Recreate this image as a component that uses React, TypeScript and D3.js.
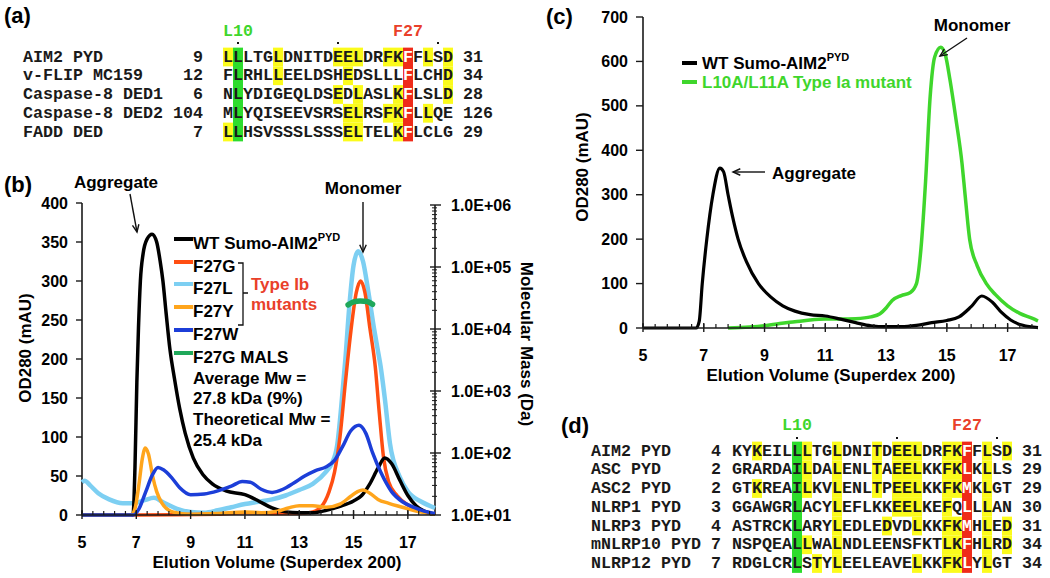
import React from 'react';
import * as d3 from 'd3';

// ---------- DATA ----------
type P = [number, number];

const xTickValues = [5, 7, 9, 11, 13, 15, 17];
const bLeftTicks = [0, 50, 100, 150, 200, 250, 300, 350, 400];
const bRightTicks = [1e1, 1e2, 1e3, 1e4, 1e5, 1e6];
const bRightLabels = ['1.0E+01', '1.0E+02', '1.0E+03', '1.0E+04', '1.0E+05', '1.0E+06'];
const cLeftTicks = [0, 100, 200, 300, 400, 500, 600, 700];

// panel (b) chromatograms (elution volume, OD280)
const wtB: P[] = [[5, 0], [6.8, 0], [6.88, 1], [6.95, 60], [7.02, 170], [7.08, 240], [7.15, 300], [7.25, 335], [7.4, 354], [7.58, 360], [7.75, 350], [7.88, 325], [7.98, 300], [8.1, 258], [8.24, 212], [8.4, 176], [8.6, 136], [8.8, 105], [9.1, 73], [9.45, 52], [9.8, 40], [10.3, 31], [11, 26], [11.5, 18], [12, 9], [12.5, 4], [13, 3], [13.5, 3], [14, 6], [14.5, 11], [15, 18], [15.3, 25], [15.6, 40], [15.9, 60], [16.15, 73], [16.4, 66], [16.7, 45], [17, 25], [17.3, 12], [17.6, 5], [18, 1]];
const f27G: P[] = [[5, 0], [7, 0], [10, 1], [11, 3], [12, 2], [13, 2], [13.5, 4], [13.8, 10], [14.1, 30], [14.3, 55], [14.5, 100], [14.7, 170], [14.9, 235], [15.1, 285], [15.26, 300], [15.42, 285], [15.6, 240], [15.8, 190], [15.95, 130], [16.1, 75], [16.3, 42], [16.6, 25], [17, 13], [17.4, 6], [18, 1]];
const f27L: P[] = [[5, 42], [5.1, 44], [5.3, 38], [5.6, 28], [6, 20], [6.5, 15], [6.9, 15], [7.3, 19], [7.65, 22], [8, 16], [8.5, 8], [9, 4], [9.5, 3], [10, 6], [10.5, 10], [11, 14], [11.5, 17], [12, 20], [12.5, 25], [13, 32], [13.5, 40], [14, 56], [14.2, 66], [14.4, 90], [14.55, 140], [14.7, 200], [14.85, 270], [15.0, 320], [15.17, 338], [15.35, 325], [15.55, 285], [15.75, 240], [15.9, 210], [16.0, 190], [16.15, 150], [16.34, 92], [16.7, 49], [17, 30], [17.5, 17], [18, 9]];
const f27Y: P[] = [[5, 0], [6.8, 0], [6.95, 8], [7.1, 40], [7.22, 72], [7.33, 86], [7.45, 78], [7.6, 50], [7.75, 30], [7.95, 15], [8.2, 6], [8.6, 2], [9, 1], [10, 2], [11, 4], [11.6, 3], [12.2, 5], [12.6, 9], [13, 12], [13.5, 12], [14, 10], [14.5, 14], [14.9, 24], [15.15, 30], [15.35, 32], [15.6, 28], [15.9, 20], [16.3, 15], [16.8, 10], [17.3, 5], [18, 1]];
const f27W: P[] = [[5, 0], [6.9, 0], [7.1, 8], [7.35, 30], [7.6, 52], [7.8, 61], [8.0, 58], [8.3, 48], [8.6, 35], [9, 26], [9.5, 27], [10, 31], [10.5, 37], [10.9, 43], [11.2, 42], [11.6, 33], [12.0, 29], [12.4, 33], [12.8, 41], [13.2, 50], [13.6, 57], [14, 62], [14.3, 70], [14.6, 88], [14.9, 108], [15.2, 115], [15.45, 105], [15.7, 80], [16.0, 55], [16.4, 30], [16.8, 17], [17.2, 10], [17.6, 5], [18, 2]];
// MALS molar mass (Da), right log axis
const malsB: P[] = [[14.8, 24500], [15.0, 27300], [15.25, 28300], [15.5, 27800], [15.7, 25000]];

// panel (c)
const wtC: P[] = [[5, 0], [6.75, 0], [6.85, 15], [6.95, 100], [7.1, 200], [7.3, 300], [7.53, 360], [7.65, 352], [7.8, 300], [7.95, 250], [8.13, 200], [8.4, 150], [8.8, 100], [9.2, 70], [9.6, 50], [10.0, 38], [10.5, 30], [11, 27], [11.5, 20], [12, 12], [12.5, 5], [13, 3], [13.5, 3], [14, 6], [14.5, 12], [15, 17], [15.4, 25], [15.8, 48], [16.15, 72], [16.5, 58], [16.8, 35], [17.1, 18], [17.5, 6], [18, 1]];
const l10C: P[] = [[7.8, 0], [8.5, 2], [9, 5], [9.5, 10], [10, 14], [10.5, 18], [11, 20], [11.5, 20], [12, 21], [12.5, 25], [12.8, 32], [13.0, 45], [13.2, 62], [13.5, 73], [13.8, 80], [14.0, 100], [14.15, 180], [14.3, 330], [14.45, 520], [14.6, 610], [14.8, 632], [14.95, 615], [15.1, 560], [15.3, 470], [15.5, 370], [15.6, 300], [15.75, 200], [16.0, 140], [16.3, 100], [16.6, 75], [17.0, 50], [17.4, 33], [17.8, 22], [18, 16]];

const bLegendNames = ['WT Sumo-AIM2', 'F27G', 'F27L', 'F27Y', 'F27W', 'F27G MALS'];
const cLegendNames = ['WT Sumo-AIM2', 'L10A/L11A Type Ia mutant'];
const bNotes = ['Average Mw =', '27.8 kDa (9%)', 'Theoretical Mw =', '25.4 kDa'];

// panel (a) alignment
const aNames = ['AIM2 PYD', 'v-FLIP MC159', 'Caspase-8 DED1', 'Caspase-8 DED2', 'FADD DED'];
const aStarts = ['9', '12', '6', '104', '7'];
const aSeqs = ['LLLTGLDNITDEELDRFKFFLSD', 'FLRHLLEELDSHEDSLLLFLCHD', 'NLYDIGEQLDSEDLASLKFLSLD', 'MLYQISEEVSRSELRSFKFLLQE', 'LLHSVSSSLSSSELTELKFLCLG'];
const aEnds = ['31', '34', '28', '126', '29'];
const aYellow = [[0, 5, 11, 12, 13, 16, 17, 20, 22], [5, 12, 22], [11, 13, 17, 22], [12, 13, 16, 17, 20], [0, 12, 13, 17]];

// panel (d) alignment
const dNames = ['AIM2 PYD', 'ASC PYD', 'ASC2 PYD', 'NLRP1 PYD', 'NLRP3 PYD', 'mNLRP10 PYD', 'NLRP12 PYD'];
const dStarts = ['4', '2', '2', '3', '4', '7', '7'];
const dSeqs = ['KYKEILLLTGLDNITDEELDRFKFFLSD', 'GRARDAILDALENLTAEELKKFKLKLLS', 'GTKREAILKVLENLTPEELKKFKMKLGT', 'GGAWGRLACYLEFLKKEELKEFQLLLAN', 'ASTRCKLARYLEDLEDVDLKKFKMHLED', 'NSPQEALLWALNDLEENSFKTLKFHLRD', 'RDGLCRLSTYLEELEAVELKKFKLYLGT'];
const dEnds = ['31', '29', '29', '30', '31', '34', '34'];
const dYellow = [[2, 7, 10, 14, 16, 17, 18, 21, 22, 25, 27], [7, 10, 14, 16, 17, 18, 21, 22, 25], [2, 7, 10, 14, 16, 17, 18, 21, 22, 25], [10, 16, 17, 18, 21, 25], [10, 15, 18, 21, 22, 25, 27], [7, 10, 21, 22, 25, 27], [8, 10, 18, 21, 22, 25]];

// ---------- STYLE ----------
const FONT = "'Liberation Sans', Arial, Helvetica, sans-serif";
const MONO = "'Liberation Mono', 'Courier New', monospace";
const AX = '#1a1a1a';
const COL = {
  wt: '#000000', g: '#ff4e12', l: '#7dcff2', y: '#ffa51c', w: '#1c3ed8', mals: '#1fa85a',
  green: '#3fd62c', red: '#e9402a', hlY: '#fbfb1c', hlG: '#2ddc2d', hlR: '#ef2b1a',
};
const bColors = [COL.wt, COL.g, COL.l, COL.y, COL.w, COL.mals];
const cColors = [COL.wt, COL.green];

function Arrow({ x1, y1, x2, y2 }: { x1: number; y1: number; x2: number; y2: number }) {
  const a = Math.atan2(y2 - y1, x2 - x1);
  const L = 8, w = 0.42;
  const p1 = [x2 - L * Math.cos(a - w), y2 - L * Math.sin(a - w)];
  const p2 = [x2 - L * Math.cos(a + w), y2 - L * Math.sin(a + w)];
  return (
    <g stroke="#111" strokeWidth={1.4} fill="none">
      <line x1={x1} y1={y1} x2={x2} y2={y2} />
      <path d={`M${p1[0]},${p1[1]}L${x2},${y2}L${p2[0]},${p2[1]}`} />
    </g>
  );
}

function minorTicks(lo: number, hi: number, step: number) {
  const out: number[] = [];
  for (let k = 0; lo + k * step <= hi + 1e-9; k++) out.push(+(lo + k * step).toFixed(4));
  return out;
}

function XAxis({ x, y0, title, titleX }: { x: d3.ScaleLinear<number, number>; y0: number; title: string; titleX: number }) {
  const [a, b] = x.range();
  return (
    <g>
      <line x1={a} x2={b} y1={y0} y2={y0} stroke={AX} strokeWidth={1.6} />
      {minorTicks(5, 18, 0.4).map((v, i) => (
        <line key={i} x1={x(v)} x2={x(v)} y1={y0 - 4} y2={y0} stroke={AX} strokeWidth={1.2} />
      ))}
      {xTickValues.map((v) => (
        <g key={v}>
          <line x1={x(v)} x2={x(v)} y1={y0 - 5} y2={y0 + 4} stroke={AX} strokeWidth={1.4} />
          <text x={x(v)} y={y0 + 27} textAnchor="middle" fontSize={16} fontWeight="bold" dominantBaseline="central">{v}</text>
        </g>
      ))}
      <text x={titleX} y={y0 + 47} textAnchor="middle" fontSize={17} fontWeight="bold" dominantBaseline="central">{title}</text>
    </g>
  );
}

function PanelB() {
  const x = d3.scaleLinear().domain([5, 18]).range([82, 435]);
  const y = d3.scaleLinear().domain([0, 400]).range([515, 203]);
  const yR = d3.scaleLog().domain([10, 1e6]).range([515, 205]);
  const line = d3.line<P>().x((d) => x(d[0])).y((d) => y(d[1])).curve(d3.curveMonotoneX);
  const lineR = d3.line<P>().x((d) => x(d[0])).y((d) => yR(d[1])).curve(d3.curveMonotoneX);
  const minorLog: number[] = [];
  for (let e = 1; e < 6; e++) for (let m = 2; m <= 9; m++) minorLog.push(m * Math.pow(10, e));
  const legY = [243, 266, 288, 311, 334, 357];
  return (
    <g>
      <text x={4} y={184} fontSize={22} fontWeight="bold" dominantBaseline="central">(b)</text>
      {/* left axis */}
      <line x1={82} x2={82} y1={203} y2={515} stroke={AX} strokeWidth={1.6} />
      {bLeftTicks.map((v) => (
        <g key={v}>
          <line x1={76} x2={82} y1={y(v)} y2={y(v)} stroke={AX} strokeWidth={1.4} />
          <text x={68} y={y(v)} textAnchor="end" fontSize={16} fontWeight="bold" dominantBaseline="central">{v}</text>
        </g>
      ))}
      <text transform="translate(25,348) rotate(-90)" textAnchor="middle" fontSize={17} fontWeight="bold" dominantBaseline="central">OD280 (mAU)</text>
      {/* right axis */}
      <line x1={435} x2={435} y1={205} y2={515} stroke={AX} strokeWidth={1.6} />
      {minorLog.map((v, i) => (
        <line key={i} x1={432} x2={437} y1={yR(v)} y2={yR(v)} stroke={AX} strokeWidth={1} />
      ))}
      {bRightTicks.map((v, i) => (
        <g key={v}>
          <line x1={430} x2={441} y1={yR(v)} y2={yR(v)} stroke={AX} strokeWidth={1.4} />
          <text x={451} y={yR(v)} fontSize={16} fontWeight="bold" dominantBaseline="central">{bRightLabels[i]}</text>
        </g>
      ))}
      <text transform="translate(526,344) rotate(90)" textAnchor="middle" fontSize={17} fontWeight="bold" dominantBaseline="central">Molecular Mass (Da)</text>
      {/* curves */}
      <path d={line(f27L)!} fill="none" stroke={COL.l} strokeWidth={4.5} />
      <path d={line(f27G)!} fill="none" stroke={COL.g} strokeWidth={3.5} />
      <path d={line(wtB)!} fill="none" stroke={COL.wt} strokeWidth={3.5} />
      <path d={line(f27Y)!} fill="none" stroke={COL.y} strokeWidth={3.5} />
      <path d={line(f27W)!} fill="none" stroke={COL.w} strokeWidth={3.5} />
      <path d={lineR(malsB)!} fill="none" stroke={COL.mals} strokeWidth={5.5} strokeLinecap="round" />
      <XAxis x={x} y0={515} title="Elution Volume (Superdex 200)" titleX={277} />
      {/* legend */}
      {bLegendNames.map((n, i) => (
        <g key={n}>
          <line x1={174} x2={193} y1={legY[i] - 4} y2={legY[i] - 4} stroke={bColors[i]} strokeWidth={4} />
          <text x={193} y={legY[i]} fontSize={17} fontWeight="bold" dominantBaseline="central">
            {n}
            {i === 0 ? <tspan fontSize={11} dy={-6}>PYD</tspan> : null}
          </text>
        </g>
      ))}
      <path d="M238,263 L243,263 L243,325 L238,325 M243,293 L248,293" fill="none" stroke="#111" strokeWidth={1.3} />
      <text x={251} y={284} fontSize={17} fontWeight="bold" fill={COL.red} dominantBaseline="central">Type Ib</text>
      <text x={251} y={304} fontSize={17} fontWeight="bold" fill={COL.red} dominantBaseline="central">mutants</text>
      {bNotes.map((t, i) => (
        <text key={t} x={193} y={378 + i * 20.7} fontSize={17} fontWeight="bold" dominantBaseline="central">{t}</text>
      ))}
      <text x={116} y={182} textAnchor="middle" fontSize={17} fontWeight="bold" dominantBaseline="central">Aggregate</text>
      <Arrow x1={130} y1={194} x2={137} y2={232} />
      <text x={363} y={188} textAnchor="middle" fontSize={17} fontWeight="bold" dominantBaseline="central">Monomer</text>
      <Arrow x1={363} y1={202} x2={363} y2={252} />
    </g>
  );
}

function PanelC() {
  const x = d3.scaleLinear().domain([5, 18]).range([643, 1038]);
  const y = d3.scaleLinear().domain([0, 700]).range([328, 17]);
  const line = d3.line<P>().x((d) => x(d[0])).y((d) => y(d[1])).curve(d3.curveMonotoneX);
  const legY = [63, 82];
  return (
    <g>
      <text x={546} y={16} fontSize={22} fontWeight="bold" dominantBaseline="central">(c)</text>
      <line x1={643} x2={643} y1={17} y2={328} stroke={AX} strokeWidth={1.6} />
      {cLeftTicks.map((v) => (
        <g key={v}>
          <line x1={636} x2={643} y1={y(v)} y2={y(v)} stroke={AX} strokeWidth={1.4} />
          <text x={628} y={y(v)} textAnchor="end" fontSize={16} fontWeight="bold" dominantBaseline="central">{v}</text>
        </g>
      ))}
      <text transform="translate(582,167) rotate(-90)" textAnchor="middle" fontSize={17} fontWeight="bold" dominantBaseline="central">OD280 (mAU)</text>
      <path d={line(l10C)!} fill="none" stroke={COL.green} strokeWidth={3.5} />
      <path d={line(wtC)!} fill="none" stroke={COL.wt} strokeWidth={3.2} />
      <XAxis x={x} y0={328} title="Elution Volume (Superdex 200)" titleX={831} />
      {cLegendNames.map((n, i) => (
        <g key={n}>
          <line x1={682} x2={697} y1={legY[i]} y2={legY[i]} stroke={cColors[i]} strokeWidth={4} />
          <text x={702} y={legY[i]} fontSize={17} fontWeight="bold" fill={i === 1 ? COL.green : '#000'} dominantBaseline="central">
            {n}
            {i === 0 ? <tspan fontSize={11} dy={-6}>PYD</tspan> : null}
          </text>
        </g>
      ))}
      <text x={772} y={173} fontSize={17} fontWeight="bold" dominantBaseline="central">Aggregate</text>
      <Arrow x1={765} y1={172} x2={733} y2={172} />
      <text x={972} y={25} textAnchor="middle" fontSize={17} fontWeight="bold" dominantBaseline="central">Monomer</text>
      <Arrow x1={967} y1={38} x2={940} y2={56} />
    </g>
  );
}

function SeqPanel(props: {
  names: string[]; starts: string[]; seqs: string[]; ends: string[]; yellow: number[][];
  labelX: number; numRight: number; seqX: number; endX: number; y0: number; dy: number;
  gCol: number; rCol: number; headY: number; dotY: number; dotCols: number[];
}) {
  const { names, starts, seqs, ends, yellow, labelX, numRight, seqX, endX, y0, dy, gCol, rCol, headY, dotY, dotCols } = props;
  const cw = 10;
  const fs = 16.67;
  const n = names.length;
  const top = y0 - dy / 2;
  return (
    <g fontFamily={MONO} fontWeight="bold" fontSize={fs}>
      {yellow.map((cols, r) => cols.map((c) => (
        <rect key={r + '-' + c} x={seqX + c * cw} y={top + r * dy} width={cw} height={dy} fill={COL.hlY} />
      )))}
      <rect x={seqX + gCol * cw} y={top} width={cw} height={dy * n} fill={COL.hlG} />
      <rect x={seqX + rCol * cw} y={top} width={cw} height={dy * n} fill={COL.hlR} />
      <text x={seqX + gCol * cw + cw / 2} y={headY} textAnchor="middle" fill={COL.green} dominantBaseline="central">L10</text>
      <text x={seqX + rCol * cw + cw / 2} y={headY} textAnchor="middle" fill={COL.red} dominantBaseline="central">F27</text>
      {dotCols.map((c) => (
        <rect key={c} x={seqX + c * cw + cw / 2 - 1} y={dotY - 1} width={2} height={2} fill="#111" />
      ))}
      {names.map((nm, r) => {
        const yy = y0 + r * dy;
        return (
          <g key={nm}>
            <text x={labelX} y={yy} fill="#1a1a1a" dominantBaseline="central" style={{ whiteSpace: 'pre' }}>{nm}</text>
            <text x={numRight} y={yy} textAnchor="end" fill="#1a1a1a" dominantBaseline="central">{starts[r]}</text>
            {seqs[r].split('').map((ch, i) => (
              <text key={i} x={seqX + i * cw + cw / 2} y={yy} textAnchor="middle" fill={i === rCol ? '#fff' : '#1a1a1a'} dominantBaseline="central">{ch}</text>
            ))}
            <text x={endX} y={yy} fill="#1a1a1a" dominantBaseline="central">{ends[r]}</text>
          </g>
        );
      })}
    </g>
  );
}

export default function App() {
  return (
    <svg width={1050} height={578} style={{ position: 'absolute', left: 0, top: 0, background: '#fff' }} fontFamily={FONT}>
      <rect width={1050} height={578} fill="#fff" />
      <text x={4} y={15} fontSize={22} fontWeight="bold" dominantBaseline="central">(a)</text>
      <SeqPanel names={aNames} starts={aStarts} seqs={aSeqs} ends={aEnds} yellow={aYellow}
        labelX={23} numRight={203} seqX={223} endX={463} y0={57} dy={18.75}
        gCol={1} rCol={18} headY={31} dotY={43} dotCols={[1, 11, 21]} />
      <PanelB />
      <PanelC />
      <text x={561} y={425} fontSize={22} fontWeight="bold" dominantBaseline="central">(d)</text>
      <SeqPanel names={dNames} starts={dStarts} seqs={dSeqs} ends={dEnds} yellow={dYellow}
        labelX={591} numRight={721} seqX={732} endX={1022} y0={451} dy={18.75}
        gCol={6} rCol={23} headY={425} dotY={438} dotCols={[6, 16, 26]} />
    </svg>
  );
}
